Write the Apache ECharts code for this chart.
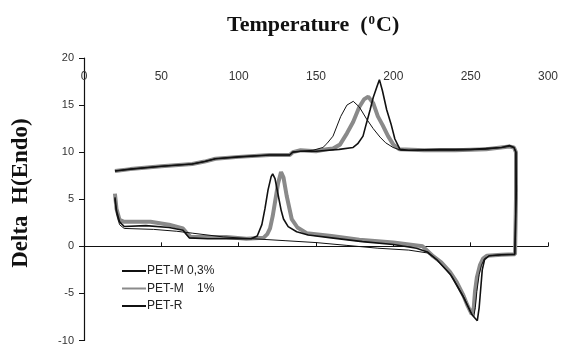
<!DOCTYPE html>
<html>
<head>
<meta charset="utf-8">
<script src="https://cdn.jsdelivr.net/npm/echarts@6/dist/echarts.min.js"></script>
<style>
  html, body { margin: 0; padding: 0; background: #fff; }
  #box { width: 561px; height: 346px; }
</style>
</head>
<body>
<div id="box"></div>
<script>
// axis ticks
var xTicks = [0, 50, 100, 150, 200, 250, 300];
var yTicks = [-10, -5, 0, 5, 10, 15, 20];
var legendNames = ['PET-M 0,3%', 'PET-M    1%', 'PET-R'];

// each curve: lower (first) trace left->right, then up at ~280 and back along the upper trace
var petM03 = [
  [20, 5.2], [21, 3.8], [23, 2.6], [26, 2.1], [40, 2.2], [55, 2.0], [64, 1.7], [68, 0.9], [80, 0.8], [95, 0.8],
  [108, 0.8], [112, 1.1], [115, 2.3], [117, 4.0], [119, 6.0], [121, 7.4], [122, 7.7], [123.5, 7.2], [125.6, 5.4],
  [127.5, 3.8], [129, 2.9], [132, 2.1], [137.5, 1.55], [145, 1.2], [160, 0.9], [180, 0.5], [200, 0.2], [215, -0.2],
  [222, -0.6], [228, -1.4], [237, -3.0], [245, -5.3], [251, -7.3], [254.3, -7.9], [255.5, -6.5], [256.5, -4.5],
  [257.5, -2.5], [259, -1.4], [262, -1.0], [270, -0.9], [278.5, -0.85], [279, 2], [279.5, 6], [279.3, 10.0],
  [278, 10.5], [275, 10.7], [270, 10.5], [250, 10.3], [230, 10.3], [210, 10.2], [204.3, 10.3], [201, 11.4],
  [198.5, 13.0], [195.7, 14.5], [193, 16.5], [191, 17.7], [189.5, 17.0], [187, 15.8], [185, 14.5], [182.5, 13.0],
  [180.4, 11.7], [177, 10.9], [174, 10.5], [165, 10.3], [150, 10.1], [140, 10.1], [135, 10.0], [133, 9.7],
  [120, 9.7], [100, 9.5], [85, 9.3], [78, 9.0], [70, 8.75], [50, 8.5], [30, 8.2], [20, 8.0]
];
var petM1 = [
  [20, 5.6], [21, 4.0], [23, 2.8], [26, 2.6], [43, 2.6], [55, 2.3], [64, 1.9], [67, 1.3], [69, 1.0], [92, 1.0],
  [105, 0.8], [116, 0.9], [118.5, 1.3], [120.3, 1.9], [122, 3.2], [123.5, 4.7], [125.5, 6.7], [127.4, 7.9],
  [129, 7.3], [131, 5.4], [134.3, 2.9], [138, 2.0], [144, 1.4], [160, 1.1], [178, 0.7], [200, 0.4], [219, 0.0],
  [225.7, -1.05], [231, -1.7], [236.6, -2.7], [241, -3.8], [245, -5.1], [248, -6.3], [250.7, -7.2], [252, -6.5],
  [252.8, -4.8], [254, -3.3], [256, -2.0], [258, -1.3], [260.4, -1.0], [270, -0.9], [278.7, -0.85], [279.3, 5],
  [279.3, 10.0], [278, 10.5], [275, 10.6], [260, 10.3], [240, 10.2], [220, 10.2], [204, 10.3], [200, 10.8],
  [196.6, 11.7], [193, 12.9], [190, 13.8], [187, 15.2], [183.8, 15.9], [181, 15.6], [178, 14.8], [174, 13.2],
  [170, 12.0], [165.5, 10.8], [161, 10.4], [157, 10.3], [150, 10.1], [140, 10.2], [135, 10.0], [133, 9.7],
  [120, 9.7], [100, 9.5], [85, 9.3], [78, 9.0], [70, 8.75], [50, 8.5], [30, 8.2], [20, 8.0]
];
var petR = [
  [20, 5.0], [21, 3.5], [23, 2.3], [26, 1.9], [45, 1.8], [60, 1.6], [70, 1.4], [90, 1.0], [110, 0.8], [130, 0.6],
  [150, 0.4], [170, 0.1], [190, -0.2], [210, -0.4], [222, -0.7], [228, -1.4], [238, -3.2], [246, -5.5], [250, -7.0],
  [252, -7.5], [253, -6.5], [254, -4.8], [255.5, -3.0], [257, -2.0], [259, -1.3], [262, -1.0], [270, -0.9],
  [278.6, -0.85], [279.2, 5], [279.2, 10.0], [278, 10.5], [275, 10.6], [260, 10.3], [240, 10.2], [220, 10.2],
  [205, 10.2], [199.8, 10.5], [195, 11.0], [191.4, 11.6], [187, 12.5], [182.8, 13.5], [178, 14.8], [174.1, 15.4],
  [170, 15.0], [166, 13.8], [161, 11.7], [157, 10.9], [154.5, 10.5], [148, 10.2], [140, 10.1], [135, 10.0],
  [133, 9.7], [120, 9.7], [100, 9.5], [85, 9.3], [78, 9.0], [70, 8.75], [50, 8.5], [30, 8.2], [20, 8.0]
];

var chart = echarts.init(document.getElementById('box'));
var serif = '"Liberation Serif", "Times New Roman", serif';
var sans = '"Liberation Sans", Arial, sans-serif';

var option = {
    animation: false,
    title: {
        text: '{a|Temperature  (}{s|0}{a|C)}',
        left: 222,
        top: 9,
        textStyle: {
            rich: {
                a: { fontFamily: serif, fontWeight: 'bold', fontSize: 22, color: '#111' },
                s: { fontFamily: serif, fontWeight: 'bold', fontSize: 13, color: '#111', padding: [0, 1, 9, 1] }
            }
        }
    },
    graphic: [{
        type: 'text',
        x: 21,
        y: 193,
        rotation: Math.PI / 2,
        style: {
            text: 'Delta  H(Endo)',
            font: 'bold 23px ' + serif,
            fill: '#111',
            align: 'center',
            verticalAlign: 'middle'
        }
    }],
    legend: {
        orient: 'vertical',
        left: 116,
        top: 260,
        itemWidth: 24,
        itemHeight: 10,
        itemGap: 5.5,
        data: legendNames,
        itemStyle: { opacity: 0 },
        textStyle: { fontFamily: sans, fontSize: 12, color: '#222', padding: [0, 0, 0, -4] }
    },
    grid: { left: 84, right: 13, top: 58, bottom: 3 },
    xAxis: {
        type: 'value',
        position: 'top',
        min: xTicks[0],
        max: xTicks[xTicks.length - 1],
        interval: 50,
        splitLine: { show: false },
        axisLine: { lineStyle: { color: '#111', width: 1.2 } },
        axisTick: { length: 4, lineStyle: { color: '#111' } },
        axisLabel: { inside: true, margin: 13, fontFamily: sans, fontSize: 12, color: '#333' }
    },
    yAxis: {
        type: 'value',
        min: yTicks[0],
        max: yTicks[yTicks.length - 1],
        interval: 5,
        splitLine: { show: false },
        axisLine: { show: true, lineStyle: { color: '#111', width: 1.2 } },
        axisTick: { show: true, length: 5, lineStyle: { color: '#111' } },
        axisLabel: { margin: 10, fontFamily: sans, fontSize: 11, color: '#333' }
    },
    series: [
        {
            name: legendNames[0], type: 'line', data: petM03, symbol: 'none', z: 3,
            lineStyle: { color: '#111', width: 1.6 }, itemStyle: { color: '#111' }
        },
        {
            name: legendNames[1], type: 'line', data: petM1, symbol: 'none', z: 2,
            lineStyle: { color: '#8a8a8a', width: 4 }, itemStyle: { color: '#8a8a8a' }
        },
        {
            name: legendNames[2], type: 'line', data: petR, symbol: 'none', z: 3,
            lineStyle: { color: '#111', width: 1 }, itemStyle: { color: '#111' }
        }
    ]
};
chart.setOption(option);
</script>
</body>
</html>
